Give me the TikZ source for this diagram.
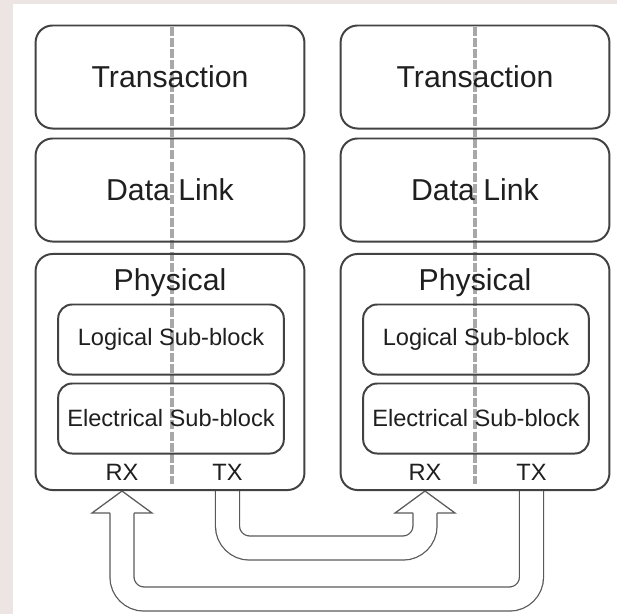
\documentclass[tikz,border=0pt]{standalone}
\usepackage{fontspec}
\setmainfont{Liberation Sans}
\usetikzlibrary{positioning,calc,backgrounds}
\definecolor{edgegray}{RGB}{66,66,66}
\definecolor{pipegray}{RGB}{90,90,90}
\definecolor{splitgray}{RGB}{168,168,168}
\definecolor{pagetint}{RGB}{237,228,228}

\begin{document}
\begin{tikzpicture}[
    x=0.025cm, y=-0.025cm,
    layer/.style={draw=edgegray, line width=1.4pt, rounded corners=0.425cm, minimum width=6.72cm, minimum height=2.575cm, inner sep=0pt, text=black!88, font=\fontsize{21.5}{24}\selectfont},
    phys/.style={layer, minimum height=5.9cm},
    subblock/.style={draw=edgegray, line width=1.4pt, rounded corners=0.35cm, minimum width=5.64cm, minimum height=1.75cm, inner sep=0pt, text=black!88, font=\fontsize{16.8}{19}\selectfont},
    port/.style={inner sep=0pt, text=black!88, font=\fontsize{16.8}{19}\selectfont},
    split/.style={draw=splitgray, line width=2.7pt, dash pattern=on 6.4pt off 1.6pt},
    pipe/.style={draw=pipegray, line width=0.9pt, double=white, double distance=0.568cm, rounded corners=0.55cm},
    pipehead/.style={draw=pipegray, line width=0.9pt, fill=white, line join=miter}
  ]
    % left stack
    \node[layer] (trans1) at (170,77) {Transaction};
    \node[layer] (link1) at (170,190) {Data Link};
    \node[phys] (phy1) at (170,372) {};
    \node[port, font=\fontsize{21.5}{24}\selectfont, anchor=base] (phyname1) at (170,290.5) {Physical};
    \node[subblock] (logic1) at (171,339.5) {Logical Sub-block};
    \node[subblock] (elec1) at (171,418.5) {Electrical Sub-block};
    \node[port] (rx1) at (122,472.5) {RX};
    \node[port] (tx1) at (227.5,472.5) {TX};

    % right stack
    \node[layer] (trans2) at (475,77) {Transaction};
    \node[layer] (link2) at (475,190) {Data Link};
    \node[phys] (phy2) at (475,372) {};
    \node[port, font=\fontsize{21.5}{24}\selectfont, anchor=base] (phyname2) at (475,290.5) {Physical};
    \node[subblock] (logic2) at (476,339.5) {Logical Sub-block};
    \node[subblock] (elec2) at (476,418.5) {Electrical Sub-block};
    \node[port] (rx2) at (425,472.5) {RX};
    \node[port] (tx2) at (531.5,472.5) {TX};

    \coordinate (bend1) at (0,548);
    \coordinate (bend2) at (0,599);

    \begin{scope}[on background layer]
      \fill[pagetint] (0,0) rectangle (617,614);
      \fill[white] (13,4) rectangle (617,614);
      \draw[split] ($(trans1.north)+(2,2)$) -- ($(phy1.south)+(2,-7)$);
      \draw[split] ($(trans2.north)+(0,2)$) -- ($(phy2.south)+(0,-7)$);

      % TX left -> RX right
      \draw[pipe] (tx1 |- phy1.south) -- (tx1 |- bend1) -- (rx2 |- bend1) -- ($(rx2 |- phy2.south)+(0,22)$);
      \draw[pipehead] ($(rx2 |- phy2.south)+(-12,22)$) -- ++(-18,0) -- (rx2 |- phy2.south) -- ($(rx2 |- phy2.south)+(30,22)$) -- ++(-18,0);

      % TX right -> RX left
      \draw[pipe] (tx2 |- phy2.south) -- (tx2 |- bend2) -- (rx1 |- bend2) -- ($(rx1 |- phy1.south)+(0,22)$);
      \draw[pipehead] ($(rx1 |- phy1.south)+(-12,22)$) -- ++(-18,0) -- (rx1 |- phy1.south) -- ($(rx1 |- phy1.south)+(30,22)$) -- ++(-18,0);
    \end{scope}
  \end{tikzpicture}
\end{document}
